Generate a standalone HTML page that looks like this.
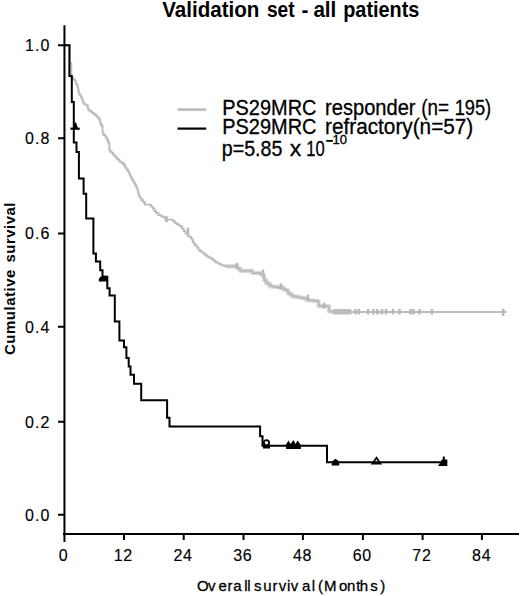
<!DOCTYPE html>
<html><head><meta charset="utf-8"><style>
html,body{margin:0;padding:0;background:#fff;}
body{width:520px;height:596px;overflow:hidden;position:relative;}
svg{position:absolute;left:0;top:0;}
text{font-family:"Liberation Sans",sans-serif;fill:#000;}
</style></head><body>
<svg width="520" height="596" viewBox="0 0 520 596">
<g font-size="21.5" font-weight="bold"><text x="162.2" y="17.3" textLength="97.2" lengthAdjust="spacingAndGlyphs">Validation</text><text x="266.9" y="17.3" textLength="27.7" lengthAdjust="spacingAndGlyphs">set</text><text x="301.5" y="17.3" textLength="6.9" lengthAdjust="spacingAndGlyphs">-</text><text x="313.4" y="17.3" textLength="22.9" lengthAdjust="spacingAndGlyphs">all</text><text x="343.2" y="17.3" textLength="76.2" lengthAdjust="spacingAndGlyphs">patients</text></g>
<!-- gray curve -->
<path d="M226.1 266.3 H236.0 H237.3 V268.5 H238.7 H240.1 V270.8 H241.5 H251.9 H252.5 V273.0 H253.1 H258.8 H261.1 V274.8 H263.4 H264.0 V280.0 H264.6 H266.3 V283.4 H268.0 H269.8 V286.3 H271.5 H273.8 V286.9 H276.1 H278.6 V287.7 H281.2 H284.0 V290.0 H286.9 H288.0 V293.5 H289.2 H291.5 V296.3 H293.8 H295.6 V296.9 H297.3 H300.2 V298.0 H303.1 H306.6 V300.4 H310.0 H314.1 V301.0 H318.1 H318.6 V306.1 H319.2 H328.4 H329.0 V311.3 H329.6 H340.8 V312.0 H352.0" fill="none" stroke="#d8d8d8" stroke-width="4.2" stroke-linejoin="round"/>
<path d="M64.00 45.20 H70.00 V63.00 H71.30 V77.00 H71.90 V78.00 H72.50 H73.17 V79.20 H74.53 V80.40 H75.20 H75.68 V82.70 H76.65 V85.00 H77.62 V87.30 H78.10 H78.20 V89.03 H78.40 V90.77 H78.60 V92.50 H78.70 H79.40 V94.80 H80.80 V97.10 H81.50 H81.88 V99.23 H82.65 V101.37 H83.42 V103.50 H83.80 H84.67 V104.35 H86.42 V105.20 H87.30 H87.60 V107.50 H88.20 V109.80 H88.50 H89.20 V110.65 H90.60 V111.50 H91.30 H92.17 V112.87 H93.90 V114.23 H95.63 V115.60 H96.50 H97.38 V117.60 H99.12 V119.60 H100.00 H100.15 V121.60 H100.45 V123.60 H100.60 H101.07 V124.95 H102.03 V126.30 H102.50 V132.70 H103.50 V135.00 H105.50 V137.30 H106.50 H106.80 V139.05 H107.40 V140.80 H107.70 H108.55 V143.10 H109.40 V150.00 H110.12 V151.45 H111.57 V152.90 H112.30 H113.17 V154.90 H114.92 V156.90 H115.80 H116.95 V159.20 H119.25 V161.50 H120.40 H121.25 V162.65 H122.95 V163.80 H123.80 H124.25 V165.55 H125.15 V167.30 H125.60 H126.30 V169.30 H127.70 V171.30 H128.40 H128.88 V173.37 H129.85 V175.43 H130.82 V177.50 H131.30 H131.88 V179.43 H133.05 V181.37 H134.22 V183.30 H134.80 H135.28 V185.20 H136.25 V187.10 H137.22 V189.00 H137.70 H137.88 V191.13 H138.25 V193.27 H138.62 V195.40 H138.80 H139.68 V197.70 H141.43 V200.00 H142.30 H143.18 V202.30 H144.93 V204.60 H145.80 H149.80 H150.80 V206.60 H152.80 V208.60 H153.80 H154.40 V211.00 H155.00 H156.15 V213.00 H158.45 V215.00 H159.60 H160.75 V216.15 H163.05 V217.30 H164.20 H165.35 V219.60 H166.50 H172.30 H173.15 V221.30 H174.85 V223.00 H175.70 H176.67 V224.17 H178.60 V225.33 H180.53 V226.50 H181.50 H182.28 V228.80 H183.82 V231.10 H184.60 H185.47 V233.15 H187.22 V235.20 H188.10 H189.10 V236.90 H191.10 V238.60 H192.10 H192.40 V240.35 H193.00 V242.10 H193.30 H194.00 V243.85 H195.40 V245.60 H196.10 H196.97 V247.90 H198.72 V250.20 H199.60 H200.60 V251.65 H202.60 V253.10 H203.60 H204.62 V254.80 H206.67 V256.50 H207.70 H208.85 V257.65 H211.15 V258.80 H212.30 H213.18 V260.25 H214.93 V261.70 H215.80 H216.65 V262.67 H218.35 V263.63 H220.05 V264.60 H220.90 H221.77 V265.17 H223.50 V265.73 H225.23 V266.30 H226.10 H236.00 H236.68 V267.40 H238.02 V268.50 H238.70 H239.40 V269.65 H240.80 V270.80 H241.50 H251.90 H252.50 V273.00 H253.10 H258.80 H259.95 V273.90 H262.25 V274.80 H263.40 H263.60 V276.53 H264.00 V278.27 H264.40 V280.00 H264.60 H265.45 V281.70 H267.15 V283.40 H268.00 H268.88 V284.85 H270.62 V286.30 H271.50 H272.65 V286.60 H274.95 V286.90 H276.10 H276.95 V287.17 H278.65 V287.43 H280.35 V287.70 H281.20 H282.15 V288.47 H284.05 V289.23 H285.95 V290.00 H286.90 H287.47 V291.75 H288.62 V293.50 H289.20 H290.35 V294.90 H292.65 V296.30 H293.80 H294.68 V296.60 H296.43 V296.90 H297.30 H298.27 V297.27 H300.20 V297.63 H302.13 V298.00 H303.10 H304.25 V298.80 H306.55 V299.60 H308.85 V300.40 H310.00 H311.01 V300.55 H313.04 V300.70 H315.06 V300.85 H317.09 V301.00 H318.10 H318.28 V302.70 H318.65 V304.40 H319.02 V306.10 H319.20 H328.40 H328.60 V307.83 H329.00 V309.57 H329.40 V311.30 H329.60 H330.75 V311.65 H333.05 V312.00 H334.20 H506.50" fill="none" stroke="#bcbcbc" stroke-width="1.9"/>
<g stroke="#b8b8b8" stroke-width="2.5" fill="none"><path d="M166.5 216.1 v6"/><path d="M188.0 227.6 v6"/><path d="M237.0 262.8 v6"/><path d="M263.0 269.5 v6"/><path d="M281.0 283.4 v6"/><path d="M308.0 294.5 v6"/><path d="M324.0 302.6 v6"/><path d="M355.5 309 V314.5"/><path d="M358.9 309 V314.5"/><path d="M368.2 309 V314.5"/><path d="M373.5 309 V314.5"/><path d="M377.3 309 V314.5"/><path d="M382.0 309 V314.5"/><path d="M386.0 309 V314.5"/><path d="M393.0 309 V314.5"/><path d="M399.5 309 V314.5"/><path d="M410.5 309 V314.5"/><path d="M413.5 309 V314.5"/><path d="M419.5 309 V314.5"/><path d="M431.9 309 V314.5"/><path d="M503.2 308.7 V315.9"/><rect x="333" y="309" width="18" height="5.5" fill="#bebebe" stroke="none"/></g>
<!-- black curve -->
<path d="M64.0 45.2 H69.4 V76.0 H71.8 V102.0 H73.8 V142.5 H76.5 V152.1 H78.9 V178.5 H83.6 V193.7 H86.2 V218.5 H93.4 V253.5 H95.9 V261.5 H100.2 V270.2 H102.5 V276.8 H107.3 V288.3 H109.6 V295.5 H114.8 V321.5 H119.4 V340.4 H124.0 V347.2 H126.4 V358.0 H128.7 V366.5 H130.5 V374.8 H134.0 V383.8 H141.2 V400.3 H167.1 V417.8 H169.5 V426.5 H260.1 V436.3 H262.5 V445.8 H327.0 V462.3 H446.0" fill="none" stroke="#000" stroke-width="2"/>
<!-- axes -->
<g stroke="#000" stroke-width="2" fill="none">
<path d="M64.45 25.2 V541.9"/>
<path d="M63 534 H519"/>
<path d="M58 45.2 H64 M58 138.2 H64 M58 233.6 H64 M58 326.7 H64 M58 421.85 H64 M58 514.8 H64"/>
<path d="M124 534 V540 M183.7 534 V540 M243.5 534 V540 M302.9 534 V540 M362.9 534 V540 M422.6 534 V540 M481.9 534 V540"/>
</g>
<!-- censor marks black -->
<g stroke="#000" stroke-width="2" fill="none">
<path d="M70.5 128.7 H79.7" stroke-width="2.2"/>
<circle cx="266.5" cy="442.8" r="2.6" stroke-width="1.8"/>
<path d="M372.5 463.5 L376.5 457.8 L380.5 463.5 Z" stroke-width="1.8"/>
<path d="M443.8 456.5 V462"/>
</g>
<g fill="#000" stroke="none">
<path d="M98.8 281.6 L98.8 279 Q100 276.2 103 275.8 L106 275.8 Q108.2 277.5 108.2 281.6 Z"/>
<path d="M73 128.5 L74.5 122.5 L76 122.5 L78 128.5 Z"/>
<path d="M263 445 H270 V448.5 H263 Z"/>
<path d="M286 449 L286 444.5 L288.5 440.5 L290.5 444 L293.5 440 L295.5 444 L297.5 440.5 L300.5 444.5 L301 449 Z"/>
<path d="M331.5 465.5 L332.5 461 L335.5 458.8 L338.5 461 L339.5 465.5 Z"/>
<path d="M438 466 L442 459.5 L447.3 459.5 L447.3 466 Z"/>
</g>
<!-- y tick labels -->
<g font-size="16" text-anchor="end" stroke="#000" stroke-width="0.15">
<text x="49.5" y="51.0" textLength="24.5" lengthAdjust="spacing">1.0</text>
<text x="49.5" y="144.0" textLength="24.5" lengthAdjust="spacing">0.8</text>
<text x="49.5" y="239.4" textLength="24.5" lengthAdjust="spacing">0.6</text>
<text x="49.5" y="332.5" textLength="24.5" lengthAdjust="spacing">0.4</text>
<text x="49.5" y="427.7" textLength="24.5" lengthAdjust="spacing">0.2</text>
<text x="49.5" y="520.6" textLength="24.5" lengthAdjust="spacing">0.0</text>
</g>
<g font-size="16" text-anchor="middle" stroke="#000" stroke-width="0.15">
<text x="63.3" y="561">0</text>
<text x="123.0" y="561" textLength="18.5" lengthAdjust="spacing">12</text>
<text x="182.7" y="561" textLength="18.5" lengthAdjust="spacing">24</text>
<text x="242.5" y="561" textLength="18.5" lengthAdjust="spacing">36</text>
<text x="302.2" y="561" textLength="18.5" lengthAdjust="spacing">48</text>
<text x="361.9" y="561" textLength="18.5" lengthAdjust="spacing">60</text>
<text x="421.6" y="561" textLength="18.5" lengthAdjust="spacing">72</text>
<text x="481.3" y="561" textLength="18.5" lengthAdjust="spacing">84</text>
</g>
<g font-size="15" stroke="#000" stroke-width="0.3"><text x="197.1 208.1 218.6 227.5 233.2 244.3 247.2 254.1 263.3 272.5 278.7 287.0 290.8 301.9 311.7 317.9 324.0 338.9 347.0 356.3 359.7 370.3 380.2" y="591">Overallsurvival(Months)</text></g>
<g transform="translate(15.3,355.1) rotate(-90)" font-size="15" font-weight="bold"><text x="0" y="0" textLength="85.5" lengthAdjust="spacing">Cumulative</text><text x="92.6" y="0" textLength="60" lengthAdjust="spacing">survival</text></g>
<!-- legend -->
<path d="M177.5 109.6 H206.2" stroke="#bcbcbc" stroke-width="2.6"/>
<path d="M177.5 128.6 H206.2" stroke="#000" stroke-width="2.2"/>
<g font-size="22" stroke="#000" stroke-width="0.3">
<text x="222.29" y="114.8" textLength="94.14" lengthAdjust="spacingAndGlyphs">PS29MRC</text>
<text x="325.09" y="114.8" textLength="90.48" lengthAdjust="spacingAndGlyphs">responder</text>
<text x="421.35" y="114.8" textLength="27.72" lengthAdjust="spacingAndGlyphs">(n=</text>
<text x="454.67" y="114.8" textLength="36.50" lengthAdjust="spacingAndGlyphs">195)</text>
<text x="222.29" y="134.2" textLength="94.14" lengthAdjust="spacingAndGlyphs">PS29MRC</text>
<text x="325.06" y="134.2" textLength="148.20" lengthAdjust="spacingAndGlyphs">refractory(n=57)</text>
<text x="221.81" y="155.8" textLength="60.60" lengthAdjust="spacingAndGlyphs">p=5.85</text>
<text x="289.80" y="155.8" textLength="11.50" lengthAdjust="spacingAndGlyphs">x</text>
<text x="306.25" y="155.8" textLength="18.42" lengthAdjust="spacingAndGlyphs">10</text>
<rect x="326.3" y="140" width="6.5" height="1.8" stroke="none"/><text x="332.6" y="144.3" font-size="12" textLength="14.5" lengthAdjust="spacingAndGlyphs">10</text>
</g>
</svg>
</body></html>
